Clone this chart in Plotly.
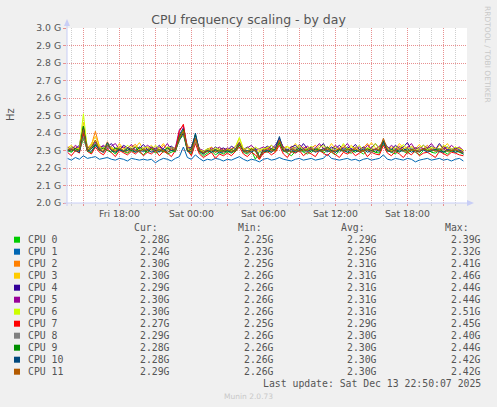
import pandas as pd
import plotly.graph_objects as go

# 20 minute samples, Fri 13:40 .. Sat 22:40 (MHz)
times = pd.date_range("2025-12-12 13:40", periods=100, freq="20min")

cpu0 = [2300, 2290, 2310, 2295, 2370, 2300, 2285, 2330, 2305, 2290,
        2340, 2300, 2280, 2310, 2295, 2285, 2300, 2320, 2290, 2275,
        2300, 2310, 2285, 2295, 2305, 2280, 2290, 2300, 2360, 2390,
        2300, 2280, 2350, 2290, 2270, 2285, 2300, 2275, 2290, 2280,
        2295, 2285, 2300, 2340, 2290, 2280, 2300, 2250, 2295, 2285,
        2300, 2290, 2310, 2340, 2300, 2285, 2270, 2295, 2305, 2290,
        2280, 2300, 2295, 2310, 2285, 2300, 2290, 2275, 2300, 2310,
        2290, 2285, 2300, 2295, 2280, 2300, 2310, 2290, 2285, 2340,
        2300, 2290, 2280, 2305, 2295, 2285, 2300, 2290, 2275, 2300,
        2310, 2290, 2285, 2300, 2295, 2280, 2300, 2290, 2295, 2280]
cpu1 = [2255, 2245, 2260, 2250, 2270, 2255, 2260, 2265, 2250, 2255,
        2260, 2250, 2245, 2255, 2250, 2240, 2255, 2250, 2245, 2250,
        2245, 2250, 2230, 2245, 2255, 2250, 2240, 2255, 2265, 2320,
        2260, 2250, 2275, 2255, 2240, 2250, 2245, 2255, 2250, 2240,
        2250, 2245, 2255, 2265, 2250, 2240, 2250, 2245, 2235, 2250,
        2255, 2245, 2250, 2260, 2250, 2245, 2240, 2250, 2255, 2245,
        2250, 2255, 2245, 2250, 2255, 2280, 2255, 2250, 2245, 2250,
        2255, 2245, 2250, 2240, 2250, 2255, 2245, 2250, 2255, 2275,
        2250, 2245, 2255, 2250, 2245, 2255, 2250, 2235, 2245, 2250,
        2255, 2245, 2250, 2255, 2245, 2250, 2240, 2250, 2255, 2240]
cpu2 = [2310, 2300, 2320, 2305, 2390, 2315, 2330, 2410, 2320, 2305,
        2350, 2310, 2300, 2325, 2315, 2300, 2320, 2335, 2305, 2310,
        2320, 2305, 2315, 2300, 2330, 2310, 2300, 2320, 2380, 2400,
        2320, 2300, 2360, 2310, 2290, 2300, 2315, 2295, 2305, 2310,
        2300, 2310, 2320, 2350, 2305, 2295, 2310, 2300, 2250, 2305,
        2315, 2305, 2320, 2355, 2310, 2300, 2325, 2310, 2300, 2320,
        2305, 2315, 2330, 2300, 2310, 2320, 2305, 2295, 2315, 2330,
        2310, 2300, 2320, 2305, 2315, 2340, 2300, 2310, 2320, 2360,
        2315, 2305, 2300, 2325, 2310, 2320, 2300, 2315, 2305, 2310,
        2330, 2305, 2315, 2300, 2320, 2310, 2305, 2300, 2315, 2300]
cpu3 = [2315, 2330, 2305, 2320, 2460, 2310, 2340, 2380, 2330, 2310,
        2330, 2320, 2305, 2340, 2310, 2300, 2325, 2315, 2345, 2305,
        2310, 2330, 2300, 2315, 2340, 2305, 2320, 2310, 2370, 2390,
        2330, 2310, 2340, 2300, 2295, 2310, 2320, 2300, 2315, 2305,
        2310, 2300, 2320, 2370, 2310, 2300, 2315, 2305, 2295, 2310,
        2320, 2310, 2300, 2350, 2315, 2325, 2305, 2340, 2310, 2300,
        2320, 2310, 2305, 2330, 2315, 2300, 2340, 2310, 2305, 2320,
        2310, 2330, 2305, 2300, 2320, 2310, 2345, 2315, 2305, 2350,
        2310, 2320, 2305, 2340, 2315, 2300, 2325, 2310, 2335, 2305,
        2320, 2310, 2300, 2330, 2315, 2340, 2305, 2320, 2310, 2300]
cpu4 = [2300, 2320, 2310, 2330, 2440, 2315, 2320, 2350, 2310, 2325,
        2320, 2340, 2310, 2300, 2330, 2315, 2305, 2320, 2310, 2335,
        2305, 2320, 2310, 2330, 2300, 2315, 2325, 2305, 2390, 2430,
        2310, 2320, 2390, 2305, 2290, 2310, 2300, 2320, 2305, 2315,
        2300, 2325, 2310, 2330, 2305, 2320, 2300, 2315, 2260, 2310,
        2325, 2310, 2330, 2370, 2315, 2300, 2320, 2330, 2305, 2340,
        2310, 2320, 2305, 2315, 2340, 2300, 2320, 2310, 2330, 2305,
        2320, 2310, 2335, 2305, 2320, 2300, 2315, 2340, 2310, 2355,
        2320, 2305, 2330, 2310, 2320, 2345, 2305, 2315, 2310, 2330,
        2310, 2325, 2305, 2340, 2310, 2320, 2300, 2315, 2305, 2290]
cpu5 = [2320, 2305, 2330, 2310, 2400, 2320, 2310, 2340, 2315, 2330,
        2310, 2325, 2340, 2305, 2320, 2310, 2335, 2300, 2320, 2310,
        2330, 2315, 2305, 2320, 2310, 2340, 2300, 2315, 2420, 2440,
        2320, 2305, 2370, 2310, 2300, 2295, 2315, 2305, 2320, 2300,
        2315, 2305, 2325, 2340, 2300, 2315, 2330, 2305, 2310, 2320,
        2300, 2330, 2310, 2360, 2320, 2305, 2315, 2300, 2335, 2310,
        2325, 2305, 2315, 2340, 2310, 2320, 2300, 2330, 2310, 2315,
        2340, 2305, 2315, 2320, 2300, 2330, 2310, 2305, 2325, 2345,
        2305, 2330, 2310, 2320, 2300, 2315, 2340, 2305, 2320, 2310,
        2315, 2340, 2310, 2305, 2325, 2300, 2330, 2310, 2320, 2300]
cpu6 = [2310, 2320, 2300, 2315, 2510, 2305, 2330, 2360, 2320, 2310,
        2340, 2315, 2305, 2320, 2300, 2330, 2310, 2325, 2300, 2315,
        2320, 2305, 2330, 2310, 2300, 2320, 2315, 2305, 2360, 2410,
        2315, 2300, 2350, 2305, 2295, 2310, 2300, 2315, 2305, 2290,
        2310, 2300, 2320, 2375, 2305, 2315, 2300, 2320, 2305, 2310,
        2315, 2330, 2300, 2350, 2310, 2320, 2305, 2315, 2330, 2300,
        2310, 2325, 2300, 2315, 2330, 2310, 2305, 2320, 2300, 2340,
        2305, 2320, 2310, 2330, 2300, 2315, 2305, 2340, 2310, 2350,
        2315, 2300, 2320, 2310, 2335, 2305, 2320, 2300, 2315, 2330,
        2305, 2320, 2310, 2300, 2330, 2315, 2305, 2320, 2310, 2300]
cpu7 = [2290, 2270, 2300, 2285, 2400, 2295, 2280, 2320, 2290, 2275,
        2310, 2290, 2265, 2300, 2285, 2275, 2295, 2280, 2300, 2270,
        2290, 2280, 2300, 2270, 2295, 2285, 2265, 2300, 2410, 2450,
        2300, 2270, 2340, 2280, 2260, 2275, 2290, 2255, 2280, 2270,
        2285, 2270, 2295, 2320, 2280, 2265, 2290, 2275, 2250, 2285,
        2295, 2275, 2290, 2330, 2280, 2260, 2295, 2285, 2300, 2270,
        2290, 2280, 2265, 2300, 2285, 2270, 2295, 2280, 2260, 2290,
        2280, 2295, 2270, 2285, 2300, 2265, 2290, 2280, 2275, 2330,
        2285, 2270, 2295, 2280, 2260, 2290, 2275, 2300, 2270, 2285,
        2290, 2275, 2260, 2295, 2280, 2270, 2290, 2285, 2275, 2270]
cpu8 = [2300, 2310, 2295, 2305, 2380, 2300, 2315, 2340, 2300, 2290,
        2320, 2305, 2290, 2310, 2300, 2315, 2295, 2305, 2290, 2310,
        2300, 2295, 2310, 2290, 2305, 2300, 2320, 2290, 2370, 2400,
        2305, 2290, 2350, 2300, 2280, 2295, 2305, 2290, 2300, 2285,
        2300, 2290, 2310, 2340, 2295, 2285, 2300, 2310, 2260, 2295,
        2305, 2295, 2310, 2350, 2300, 2290, 2305, 2320, 2295, 2300,
        2290, 2310, 2300, 2295, 2305, 2290, 2315, 2300, 2290, 2305,
        2300, 2295, 2310, 2290, 2305, 2300, 2285, 2310, 2300, 2360,
        2300, 2310, 2290, 2305, 2295, 2300, 2315, 2290, 2305, 2300,
        2295, 2310, 2300, 2290, 2305, 2295, 2310, 2300, 2290, 2290]
cpu9 = [2305, 2295, 2310, 2300, 2440, 2295, 2310, 2335, 2300, 2315,
        2300, 2290, 2315, 2305, 2295, 2310, 2300, 2290, 2320, 2300,
        2290, 2310, 2300, 2305, 2290, 2315, 2300, 2295, 2380, 2420,
        2295, 2310, 2390, 2295, 2285, 2300, 2290, 2305, 2295, 2300,
        2290, 2305, 2295, 2330, 2300, 2290, 2310, 2295, 2265, 2300,
        2290, 2310, 2300, 2345, 2295, 2305, 2290, 2300, 2315, 2295,
        2305, 2290, 2310, 2300, 2295, 2320, 2300, 2290, 2305, 2295,
        2310, 2300, 2290, 2305, 2295, 2310, 2300, 2290, 2305, 2355,
        2295, 2305, 2300, 2290, 2310, 2295, 2305, 2300, 2290, 2310,
        2300, 2295, 2305, 2310, 2290, 2300, 2295, 2305, 2290, 2280]
cpu10 = [2295, 2305, 2300, 2290, 2420, 2300, 2295, 2330, 2305, 2290,
         2345, 2300, 2290, 2305, 2295, 2300, 2310, 2290, 2300, 2295,
         2305, 2290, 2300, 2295, 2310, 2290, 2300, 2305, 2360, 2400,
         2300, 2290, 2400, 2295, 2280, 2300, 2290, 2300, 2285, 2295,
         2300, 2290, 2305, 2345, 2295, 2300, 2290, 2305, 2260, 2295,
         2300, 2290, 2310, 2380, 2300, 2295, 2305, 2290, 2300, 2310,
         2295, 2305, 2290, 2300, 2310, 2295, 2300, 2290, 2305, 2300,
         2290, 2305, 2300, 2295, 2310, 2290, 2300, 2305, 2295, 2350,
         2300, 2290, 2305, 2295, 2300, 2310, 2290, 2300, 2295, 2305,
         2290, 2300, 2305, 2295, 2290, 2305, 2300, 2290, 2300, 2280]
cpu11 = [2300, 2310, 2295, 2305, 2420, 2300, 2320, 2360, 2305, 2295,
         2330, 2305, 2295, 2315, 2300, 2290, 2310, 2300, 2295, 2305,
         2300, 2315, 2295, 2305, 2300, 2290, 2310, 2300, 2370, 2410,
         2305, 2295, 2370, 2300, 2285, 2295, 2305, 2290, 2300, 2295,
         2305, 2295, 2300, 2340, 2300, 2290, 2305, 2300, 2260, 2300,
         2310, 2300, 2295, 2360, 2305, 2290, 2310, 2300, 2295, 2305,
         2300, 2310, 2295, 2305, 2300, 2310, 2295, 2300, 2310, 2295,
         2305, 2300, 2310, 2295, 2300, 2305, 2295, 2310, 2300, 2370,
         2305, 2295, 2300, 2310, 2300, 2295, 2305, 2300, 2295, 2310,
         2300, 2305, 2295, 2300, 2310, 2295, 2300, 2305, 2295, 2290]

series = [cpu0, cpu1, cpu2, cpu3, cpu4, cpu5, cpu6, cpu7, cpu8, cpu9, cpu10, cpu11]
names = ["CPU 0", "CPU 1", "CPU 2", "CPU 3", "CPU 4", "CPU 5",
         "CPU 6", "CPU 7", "CPU 8", "CPU 9", "CPU 10", "CPU 11"]
colors = ["#00CC00", "#0066B3", "#FF8000", "#FFCC00", "#330099", "#990099",
          "#CCFF00", "#FF0000", "#808080", "#008F00", "#00487D", "#B35A00"]

# legend stats as printed by munin
cur = ["2.28G", "2.24G", "2.30G", "2.30G", "2.29G", "2.30G", "2.30G", "2.27G", "2.29G", "2.28G", "2.28G", "2.29G"]
mins = ["2.25G", "2.23G", "2.25G", "2.26G", "2.26G", "2.26G", "2.26G", "2.25G", "2.26G", "2.26G", "2.26G", "2.26G"]
avgs = ["2.29G", "2.25G", "2.31G", "2.31G", "2.31G", "2.31G", "2.31G", "2.29G", "2.30G", "2.30G", "2.30G", "2.30G"]
maxs = ["2.39G", "2.32G", "2.41G", "2.46G", "2.44G", "2.44G", "2.51G", "2.45G", "2.40G", "2.44G", "2.42G", "2.42G"]

y_ticks = [2000, 2100, 2200, 2300, 2400, 2500, 2600, 2700, 2800, 2900, 3000]
y_labels = ["2.0 G", "2.1 G", "2.2 G", "2.3 G", "2.4 G", "2.5 G", "2.6 G", "2.7 G", "2.8 G", "2.9 G", "3.0 G"]
x_ticks = ["2025-12-12 15:00", "2025-12-12 18:00", "2025-12-12 21:00", "2025-12-13 00:00",
           "2025-12-13 03:00", "2025-12-13 06:00", "2025-12-13 09:00", "2025-12-13 12:00",
           "2025-12-13 15:00", "2025-12-13 18:00", "2025-12-13 21:00"]
x_labels = ["", "Fri 18:00", "", "Sat 00:00", "", "Sat 06:00", "", "Sat 12:00", "", "Sat 18:00", ""]

W, H = 497, 407
L, R, T, B = 67, 467, 28, 203
FONT = "DejaVu Sans"
MONO = "DejaVu Sans Mono"
AXIS = "#C8CEF6"
MGRID = "#E89090"
GRID = "#CFCFCF"


def px(x):
    return (x - L) / (R - L)


def py(y):
    return (B - y) / (B - T)


fig = go.Figure()
for s, n, c in zip(series, names, colors):
    fig.add_trace(go.Scatter(x=times, y=s, name=n, mode="lines",
                             line=dict(color=c, width=1), hoverinfo="skip"))

shapes = [
    dict(type="line", xref="paper", yref="paper", x0=px(L), x1=px(L), y0=py(B + 3), y1=py(23),
         line=dict(color=AXIS, width=1)),
    dict(type="line", xref="paper", yref="paper", x0=px(L - 3), x1=px(469), y0=py(B), y1=py(B),
         line=dict(color=AXIS, width=1)),
    dict(type="path", xref="paper", yref="paper", fillcolor=AXIS, line=dict(width=0),
         path="M %f %f L %f %f L %f %f Z" % (px(L - 3), py(26), px(L), py(19), px(L + 3), py(26))),
    dict(type="path", xref="paper", yref="paper", fillcolor=AXIS, line=dict(width=0),
         path="M %f %f L %f %f L %f %f Z" % (px(467), py(B - 3), px(474), py(B), px(467), py(B + 3))),
]

ann = []
row0 = 239.7
for i, (n, c) in enumerate(zip(names, colors)):
    y = row0 + 12 * i
    shapes.append(dict(type="rect", xref="paper", yref="paper", x0=px(14), x1=px(20),
                       y0=py(y + 3), y1=py(y - 3), fillcolor=c, line=dict(width=0)))
    ann.append(dict(text=n, x=px(26), y=py(y), xanchor="left"))
    ann.append(dict(text=cur[i], x=px(172), y=py(y), xanchor="right"))
    ann.append(dict(text=mins[i], x=px(276), y=py(y), xanchor="right"))
    ann.append(dict(text=avgs[i], x=px(379), y=py(y), xanchor="right"))
    ann.append(dict(text=maxs[i], x=px(483), y=py(y), xanchor="right"))

for txt, xr in [("Cur:", 160), ("Min:", 264), ("Avg:", 367), ("Max:", 471)]:
    ann.append(dict(text=txt, x=px(xr), y=py(227.5), xanchor="right"))
ann.append(dict(text="Last update: Sat Dec 13 22:50:07 2025", x=px(483), y=py(383.5), xanchor="right"))

for a in ann:
    a.update(font=dict(family=MONO, size=9.8, color="#555555"))

ann.append(dict(text="Munin 2.0.73", x=px(248), y=py(396), xanchor="center",
                font=dict(family=FONT, size=7.5, color="#C8C8C8")))
ann.append(dict(text="RRDTOOL / TOBI OETIKER", x=px(488), y=py(54), xanchor="center",
                textangle=90, font=dict(family=FONT, size=7.5, color="#C8C8C8")))
ann.append(dict(text="Hz", x=px(10), y=py(115), xanchor="center",
                textangle=-90, font=dict(family=FONT, size=10, color="#555555")))

for a in ann:
    a.update(xref="paper", yref="paper", yanchor="middle", showarrow=False)

fig.update_layout(
    width=W, height=H, autosize=False,
    margin=dict(l=L, r=W - R, t=T, b=H - B, pad=0),
    paper_bgcolor="#F0F0F0", plot_bgcolor="#FFFFFF",
    showlegend=False,
    title=dict(text="CPU frequency scaling - by day", x=0.5, xref="container", xanchor="center",
               y=1 - 19.5 / H, yref="container", yanchor="middle",
               font=dict(family=FONT, size=12.5, color="#555555")),
    shapes=shapes, annotations=ann,
    font=dict(family=FONT, size=9.3, color="#555555"),
)
fig.update_xaxes(
    range=["2025-12-12 13:38", "2025-12-13 22:58"],
    tickvals=x_ticks, ticktext=x_labels, ticks="outside", ticklen=2, tickcolor=MGRID,
    showgrid=True, gridcolor=MGRID, griddash="1px,1px", gridwidth=1,
    minor=dict(dtick=3600000, tick0="2025-12-12 14:00", showgrid=True, gridcolor=GRID,
               griddash="1px,1px", ticks="outside", ticklen=2, tickcolor=GRID),
    showline=False, zeroline=False,
    tickfont=dict(family=FONT, size=9.3, color="#555555"),
)
fig.update_yaxes(
    range=[2000, 3000], tickvals=y_ticks, ticktext=y_labels,
    ticks="outside", ticklen=3, tickcolor=MGRID,
    showgrid=True, gridcolor=MGRID, griddash="1px,1px", gridwidth=1,
    showline=False, zeroline=False,
    tickfont=dict(family=FONT, size=9.3, color="#555555"),
)

fig.write_html("out.html", config={"displayModeBar": False},
               post_script="document.body.style.margin='0';")
